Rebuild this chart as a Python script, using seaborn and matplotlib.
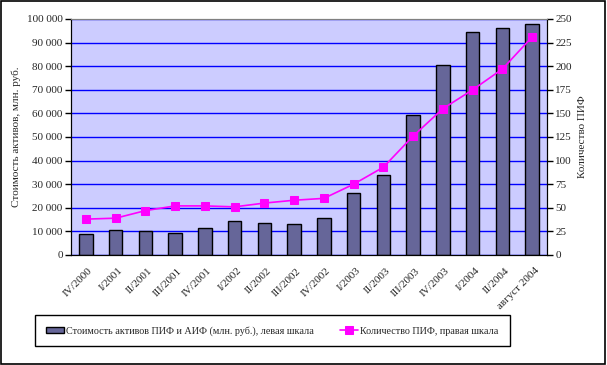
import matplotlib
matplotlib.use("Agg")
import matplotlib.pyplot as plt
import seaborn as sns
import pandas as pd
import numpy as np
from matplotlib.ticker import FuncFormatter, FixedLocator
from matplotlib.transforms import ScaledTranslation

periods = ["IV/2000", "I/2001", "II/2001", "III/2001", "IV/2001",
           "I/2002", "II/2002", "III/2002", "IV/2002",
           "I/2003", "II/2003", "III/2003", "IV/2003",
           "I/2004", "II/2004", "август 2004"]
assets = [8900, 10700, 10300, 9300, 11400, 14500, 13600, 13100, 15700,
          26300, 34000, 59300, 80500, 94500, 96200, 97900]
fund_count = [38, 39, 47, 52, 52, 51, 55, 58, 60, 75, 93, 126, 155, 175, 197, 231]

df = pd.DataFrame({"period": periods, "assets": assets, "count": fund_count})
df["pos"] = np.arange(len(df))

sns.set_style("white")
plt.rcParams["font.family"] = ["Liberation Serif", "DejaVu Serif"]
plt.rcParams["font.size"] = 8

fig = plt.figure(figsize=(6.07, 3.65), dpi=100)
ax = fig.add_axes([71 / 607, 110 / 365, 476 / 607, 236 / 365])
ax.set_facecolor("#CCCCFF")

ax.grid(axis="y", color="#0000FF", linewidth=1)
ax.set_axisbelow(True)

sns.barplot(data=df, x="period", y="assets", ax=ax, color="#666699",
            saturation=1, width=0.45, edgecolor="black", linewidth=1,
            label="Стоимость активов ПИФ и АИФ (млн. руб.), левая шкала")
if ax.get_legend() is not None:
    ax.get_legend().remove()

ax.set_xlim(-0.5, len(df) - 0.5)
ax.set_ylim(0, 100000)
ax.set_yticks(range(0, 100001, 10000))
ax.yaxis.set_major_formatter(FuncFormatter(lambda v, p: f"{int(v):,}".replace(",", " ")))
ax.set_xlabel("")
ax.set_ylabel("Стоимость активов, млн. руб.", fontsize=8)
ax.set_xticks(df["pos"])
ax.set_xticklabels(periods, rotation=45, ha="right", rotation_mode="anchor", fontsize=8)
ax.tick_params(axis="x", which="major", length=0, pad=8)
offset = ScaledTranslation(2 / 100, 0, fig.dpi_scale_trans)
for lbl in ax.get_xticklabels():
    lbl.set_transform(lbl.get_transform() + offset)
ax.xaxis.set_minor_locator(FixedLocator(np.arange(-0.5, len(df), 1)))
ax.tick_params(axis="x", which="minor", length=4, width=1, color="black", direction="out")
ax.tick_params(axis="y", length=4, width=1, color="black", direction="out", left=True, pad=2)

ax2 = ax.twinx()
sns.lineplot(data=df, x="pos", y="count", ax=ax2, color="#FF00FF", marker="s",
             markersize=6, markeredgecolor="#FF00FF", linewidth=1.2,
             label="Количество ПИФ, правая шкала", legend=False)
ax2.set_ylim(0, 250)
ax2.set_yticks(range(0, 251, 25))
ax2.set_ylabel("Количество ПИФ", fontsize=8)
ax2.tick_params(axis="y", length=4, width=1, color="black", direction="out", right=True, pad=2)
ax2.grid(False)

for a in (ax, ax2):
    a.spines["top"].set_color("#808080")
    a.spines["left"].set_color("black")
    a.spines["right"].set_color("black")
    a.spines["bottom"].set_color("black")

h1, l1 = ax.get_legend_handles_labels()
h2, l2 = ax2.get_legend_handles_labels()
leg = fig.legend(h1 + h2, l1 + l2, loc="center left",
                 bbox_to_anchor=(46 / 607, 1 - 331 / 365),
                 ncol=2, frameon=False, handlelength=1.8, handleheight=0.6,
                 handletextpad=0.15, columnspacing=2.6, fontsize=7.3,
                 borderaxespad=0, borderpad=0)

fig.patches.append(plt.Rectangle((35 / 607, 1 - 346 / 365), 475 / 607, 31 / 365,
                                 transform=fig.transFigure, fill=False,
                                 edgecolor="black", linewidth=1))
fig.patches.append(plt.Rectangle((0.002, 0.003), 0.995, 0.994, transform=fig.transFigure,
                                 fill=False, edgecolor="black", linewidth=1.2))

fig.savefig("out.png", dpi=100)
